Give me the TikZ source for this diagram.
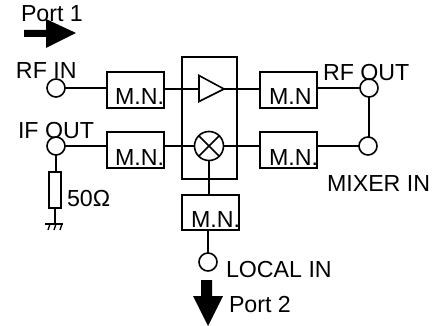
\documentclass[tikz,border=0pt]{standalone}
\usepackage{fontspec}
\setmainfont{Liberation Sans}
\usetikzlibrary{shapes.misc}
\tikzset{
  wire/.style={draw=black,line width=1.6pt},
  mnbox/.style={wire,rectangle,minimum width=57pt,minimum height=35.5pt,inner sep=0pt,outer sep=0pt},
  port/.style={wire,circle,minimum size=18pt,inner sep=0pt,outer sep=0pt},
  txt/.style={anchor=base west,inner sep=0pt,outer sep=0pt,font=\fontsize{23.2}{26}\selectfont,text=black},
  fatarrow/.style={fill=black,draw=none}
}
\begin{document}
\begin{tikzpicture}[x=1pt,y=-1pt]
\useasboundingbox (0,0) rectangle (447,326);
% central block
\node[wire,rectangle,minimum width=54.5pt,minimum height=122pt,inner sep=0pt,outer sep=0pt] (core) at (209.5,118) {};
% matching networks
\node[mnbox] (mn1) at (135.5,90) {};
\node[mnbox] (mn2) at (135.5,150) {};
\node[mnbox] (mn3) at (288.5,90) {};
\node[mnbox] (mn4) at (288.5,150) {};
\node[mnbox] (mn5) at (210.5,212.5) {};
% ports
\node[port] (rfin) at (56,88) {};
\node[port] (ifout) at (56,146) {};
\node[port] (rfout) at (369,88) {};
\node[port] (mixin) at (368,146) {};
\node[port] (lo) at (208,262) {};
% amplifier
\coordinate (ampin) at (199,89);
\coordinate (ampout) at (224,89);
\draw[wire,line join=miter] (199,75.5) -- (ampout) -- (199,101.5) -- cycle;
% mixer
\node[wire,circle,cross out,minimum size=20pt,inner sep=0pt,outer sep=0pt] (mixx) at (209,146) {};
\node[wire,circle,minimum size=29pt,inner sep=0pt,outer sep=0pt] (mix) at (209,146) {};
% resistor and ground
\node[wire,rectangle,minimum width=12pt,minimum height=36pt,inner sep=0pt,outer sep=0pt] (res) at (55,190) {};
\coordinate (gnd) at (55,224);
% connectors
\draw[wire] (rfin.east) -- (mn1.west |- rfin.east);
\draw[wire] (mn1.east |- ampin) -- (ampin);
\draw[wire] (ampout) -- (mn3.west |- ampout);
\draw[wire] (mn3.east |- rfout.west) -- (rfout.west);
\draw[wire] (rfout.south) -- (mixin.north -| rfout.south);
\draw[wire] (mn4.east |- mixin.west) -- (mixin.west);
\draw[wire] (mix.east) -- (mn4.west |- mix.east);
\draw[wire] (mn2.east |- mix.west) -- (mix.west);
\draw[wire] (ifout.east) -- (mn2.west |- ifout.east);
\draw[wire] (mix.south) -- (mix.south |- mn5.north);
\draw[wire] (lo.north) -- (lo.north |- mn5.south);
\draw[wire] (ifout.south) -- (ifout.south |- res.north);
\draw[wire] (res.south) -- (gnd);
\draw[wire,line width=1.5pt] (45,224) -- (63,224);
\draw[wire,line width=1.3pt] (50,224) -- (48,230) (56,224) -- (54,230) (62,224) -- (60,230);
% arrows
\fill[fatarrow] (24,30) -- (46,30) -- (46,19) -- (76,33) -- (46,48) -- (46,37) -- (24,37) -- cycle;
\fill[fatarrow] (201,280) -- (212,280) -- (212,296) -- (223,296) -- (208,326) -- (193,296) -- (201,296) -- cycle;
% labels
\node[txt] (l1) at (21,22) {Port 1};
\node[txt] (l2) at (16,79) {RF IN};
\node[txt] (l3) at (18,139) {IF OUT};
\node[txt] (l4) at (115,105) {M.N.};
\node[txt] (l5) at (115,165) {M.N.};
\node[txt] (l6) at (269,105) {M.N};
\node[txt] (l7) at (269,165) {M.N.};
\node[txt] (l8) at (191,227) {M.N.};
\node[txt] (l9) at (323,81) {RF OUT};
\node[txt] (l10) at (327,191) {MIXER IN};
\node[txt] (l11) at (67,206) {50Ω};
\node[txt] (l12) at (226,277) {LOCAL IN};
\node[txt] (l13) at (229,312) {Port 2};
\end{tikzpicture}
\end{document}
